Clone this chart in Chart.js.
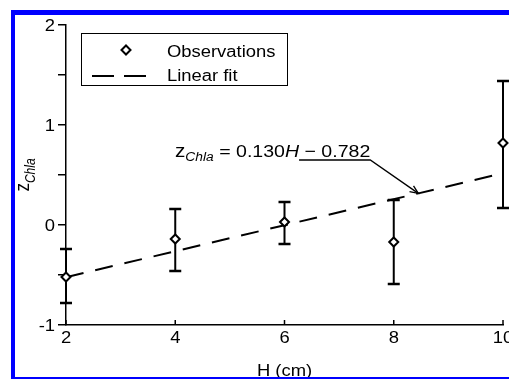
<!DOCTYPE html>
<html>
<head>
<meta charset="utf-8">
<script src="https://cdn.jsdelivr.net/npm/chart.js@4.4.1/dist/chart.umd.min.js"></script>
<style>
  html, body { margin: 0; padding: 0; background: #fff; overflow: hidden; }
  #wrap { position: relative; width: 509px; height: 379px; overflow: hidden; }
  #plot { position: absolute; left: 0; top: 0; }
  #frame {
    position: absolute; left: 11px; top: 10px; width: 600px; height: 362px;
    border-top: 5px solid #0000ff; border-left: 4px solid #0000ff; border-bottom: 2px solid #0000ff;
    pointer-events: none;
  }
</style>
</head>
<body>
<div id="wrap">
  <canvas id="plot" width="540" height="379"></canvas>
  <div id="frame"></div>
</div>
<script>
// data
const obsH = [2, 4, 6, 8, 10];
const obsZ = [-0.52, -0.14, 0.03, -0.17, 0.82];
const obsLow = [-0.78, -0.46, -0.19, -0.59, 0.17];
const obsHigh = [-0.24, 0.16, 0.23, 0.25, 1.44];
const fitH = [2, 10];
const fitZ = [-0.522, 0.518];
const xTickValues = [2, 4, 6, 8, 10];
const yTickValues = [-1, 0, 1, 2];
const legendLabels = ['Observations', 'Linear fit'];
const fitArrowAt = [8.45, 0.316];

const FONT = '"Liberation Sans", Arial, sans-serif';
const SX = 1.15; // the original figure is stretched sideways a little

function stretchText(ctx, str, x, y, size, opts = {}) {
  const sx = opts.sx || SX;
  ctx.save();
  ctx.font = (opts.italic ? 'italic ' : '') + size + 'px ' + FONT;
  ctx.fillStyle = '#000';
  ctx.textAlign = opts.align || 'left';
  ctx.textBaseline = 'alphabetic';
  ctx.translate(x, y);
  ctx.scale(sx, 1);
  ctx.fillText(str, 0, 0);
  const w = ctx.measureText(str).width * sx;
  ctx.restore();
  return w;
}

function diamond(ctx, cx, cy, r) {
  ctx.beginPath();
  ctx.moveTo(cx - r, cy);
  ctx.lineTo(cx, cy - r);
  ctx.lineTo(cx + r, cy);
  ctx.lineTo(cx, cy + r);
  ctx.closePath();
  ctx.fillStyle = '#fff';
  ctx.fill();
  ctx.lineWidth = 2;
  ctx.strokeStyle = '#000';
  ctx.stroke();
}

const errorBars = {
  id: 'errorBars',
  beforeDatasetsDraw(chart) {
    const { ctx, scales: { x, y } } = chart;
    ctx.save();
    ctx.strokeStyle = '#000';
    obsH.forEach((h, i) => {
      const px = x.getPixelForValue(h);
      const top = y.getPixelForValue(obsHigh[i]);
      const bot = y.getPixelForValue(obsLow[i]);
      ctx.lineWidth = 2;
      ctx.beginPath();
      ctx.moveTo(px, top);
      ctx.lineTo(px, bot);
      ctx.stroke();
      ctx.lineWidth = 2.5;
      ctx.beginPath();
      ctx.moveTo(px - 6, top); ctx.lineTo(px + 6, top);
      ctx.moveTo(px - 6, bot); ctx.lineTo(px + 6, bot);
      ctx.stroke();
    });
    ctx.restore();
  }
};

const decorations = {
  id: 'decorations',
  afterDraw(chart) {
    const { ctx, chartArea, scales: { x, y } } = chart;
    ctx.save();

    // inward x ticks
    ctx.strokeStyle = '#000';
    ctx.lineWidth = 1.5;
    xTickValues.forEach(v => {
      const px = x.getPixelForValue(v);
      ctx.beginPath();
      ctx.moveTo(px, chartArea.bottom);
      ctx.lineTo(px, chartArea.bottom - 5);
      ctx.stroke();
    });

    // tick labels
    xTickValues.forEach(v => {
      stretchText(ctx, String(v), x.getPixelForValue(v), chartArea.bottom + 18, 16, { align: 'center' });
    });
    yTickValues.forEach(v => {
      stretchText(ctx, String(v), chartArea.left - 11, y.getPixelForValue(v) + 6, 16, { align: 'right' });
    });

    // axis titles
    stretchText(ctx, 'H (cm)', (chartArea.left + chartArea.right) / 2, 376, 16, { align: 'center' });

    ctx.save();
    ctx.translate(29, (chartArea.top + chartArea.bottom) / 2);
    ctx.scale(SX, 1);
    ctx.rotate(-Math.PI / 2);
    ctx.fillStyle = '#000';
    ctx.textBaseline = 'alphabetic';
    ctx.font = '17px ' + FONT;
    const wz = ctx.measureText('z').width;
    ctx.font = 'italic 12px ' + FONT;
    const ws = ctx.measureText('Chla').width;
    const start = -(wz + ws) / 2;
    ctx.font = '17px ' + FONT;
    ctx.fillText('z', start, 0);
    ctx.font = 'italic 12px ' + FONT;
    ctx.fillText('Chla', start + wz, 5);
    ctx.restore();

    // legend
    ctx.lineWidth = 1;
    ctx.strokeStyle = '#000';
    ctx.strokeRect(81.5, 33.5, 206, 52);
    diamond(ctx, 126, 50, 4.5);
    stretchText(ctx, legendLabels[0], 167, 57, 16);
    ctx.save();
    ctx.setLineDash([22, 10]);
    ctx.lineWidth = 2;
    ctx.beginPath();
    ctx.moveTo(92, 76);
    ctx.lineTo(146, 76);
    ctx.stroke();
    ctx.restore();
    stretchText(ctx, legendLabels[1], 167, 81, 16);

    // fit equation with leader arrow
    let tx = 175;
    const base = 157;
    tx += stretchText(ctx, 'z', tx, base, 18);
    tx += stretchText(ctx, 'Chla', tx, base + 4, 12, { italic: true });
    tx += stretchText(ctx, ' = 0.130', tx, base, 17);
    tx += stretchText(ctx, 'H', tx, base, 17, { italic: true });
    const ulStart = tx;
    tx += stretchText(ctx, ' \u2212 0.782', tx, base, 17);
    const tgtX = x.getPixelForValue(fitArrowAt[0]);
    const tgtY = y.getPixelForValue(fitArrowAt[1]);
    ctx.lineWidth = 1.3;
    ctx.beginPath();
    ctx.moveTo(ulStart, 160);
    ctx.lineTo(tx, 160);
    ctx.lineTo(tgtX, tgtY);
    ctx.stroke();
    const ang = Math.atan2(tgtY - 160, tgtX - tx);
    ctx.beginPath();
    ctx.moveTo(tgtX - 9 * Math.cos(ang - 0.4), tgtY - 9 * Math.sin(ang - 0.4));
    ctx.lineTo(tgtX, tgtY);
    ctx.lineTo(tgtX - 9 * Math.cos(ang + 0.4), tgtY - 9 * Math.sin(ang + 0.4));
    ctx.stroke();

    ctx.restore();
  }
};

new Chart(document.getElementById('plot'), {
  type: 'scatter',
  data: {
    datasets: [
      {
        label: legendLabels[0],
        data: obsH.map((h, i) => ({ x: h, y: obsZ[i] })),
        pointStyle: 'rectRot',
        pointRadius: 4.5,
        pointBackgroundColor: '#fff',
        pointBorderColor: '#000',
        pointBorderWidth: 2,
        showLine: false,
        clip: false
      },
      {
        label: legendLabels[1],
        data: fitH.map((h, i) => ({ x: h, y: fitZ[i] })),
        showLine: true,
        borderColor: '#000',
        borderWidth: 2,
        borderDash: [18, 12],
        pointRadius: 0,
        fill: false,
        clip: false
      }
    ]
  },
  options: {
    responsive: false,
    devicePixelRatio: 1,
    animation: false,
    layout: { padding: { left: 0, top: 25, right: 37, bottom: 0 } },
    plugins: { legend: { display: false }, tooltip: { enabled: false } },
    scales: {
      x: {
        type: 'linear',
        min: 2,
        max: 10,
        ticks: { display: false, stepSize: 2, autoSkip: false },
        grid: { drawOnChartArea: false, drawTicks: false },
        border: { color: '#000', width: 1.5 },
        afterFit: s => { s.height = 54; }
      },
      y: {
        min: -1,
        max: 2,
        ticks: { display: false, stepSize: 0.5, autoSkip: false },
        grid: { drawOnChartArea: false, drawTicks: true, tickLength: 8, color: '#000', lineWidth: 1.5 },
        border: { color: '#000', width: 1.5 },
        afterFit: s => { s.width = 66; }
      }
    }
  },
  plugins: [errorBars, decorations]
});
</script>
</body>
</html>
